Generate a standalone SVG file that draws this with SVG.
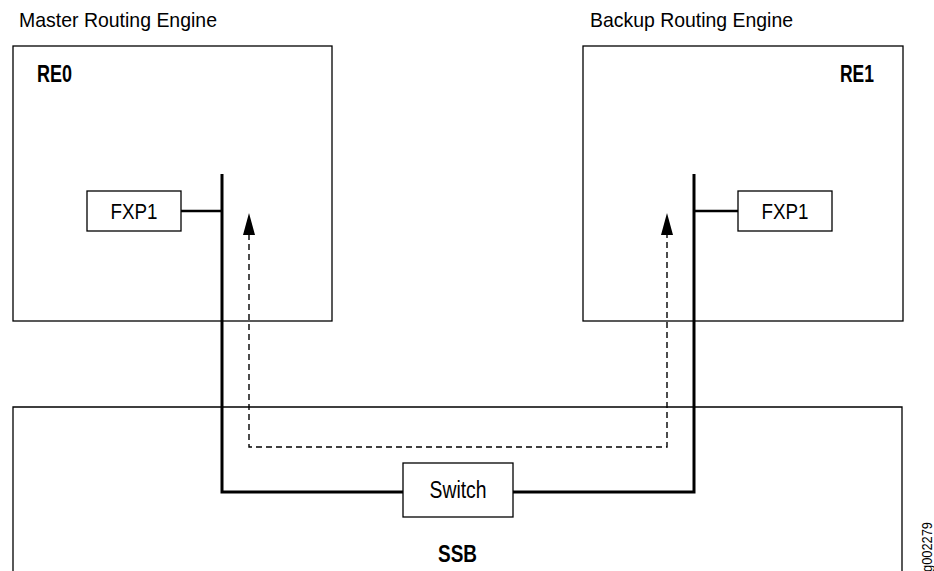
<svg xmlns="http://www.w3.org/2000/svg" width="934" height="571" viewBox="0 0 934 571">
<style>
.box{fill:#fff;stroke:#000;stroke-width:1.3}
.t{font-family:"Liberation Sans",Arial,sans-serif;fill:#000}
.b{font-weight:bold}
.thick{fill:none;stroke:#000;stroke-width:3}
.med{fill:none;stroke:#000;stroke-width:2.5}
.dash{fill:none;stroke:#000;stroke-width:1.4;stroke-dasharray:6,4}
</style>
<rect width="934" height="571" fill="#fff"/>
<g id="ssb">
<path class="box" d="M13,600 V407 H902 V600"/>
<text class="t b" x="438" y="562" font-size="23" textLength="39" lengthAdjust="spacingAndGlyphs">SSB</text>
</g>
<g id="re0">
<rect class="box" x="13" y="46" width="319" height="275"/>
<text class="t" x="19" y="27" font-size="21" textLength="198" lengthAdjust="spacingAndGlyphs">Master Routing Engine</text>
<text class="t b" x="37" y="82" font-size="23" textLength="35" lengthAdjust="spacingAndGlyphs">RE0</text>
</g>
<g id="re1">
<rect class="box" x="583" y="46" width="320" height="275"/>
<text class="t" x="590" y="27" font-size="21" textLength="203" lengthAdjust="spacingAndGlyphs">Backup Routing Engine</text>
<text class="t b" x="840" y="82" font-size="23" textLength="34" lengthAdjust="spacingAndGlyphs">RE1</text>
</g>
<g id="connectors">
<path class="thick" d="M222,174 V492 H403"/>
<path class="thick" d="M513,492 H694 V174"/>
<path class="med" d="M181,211 H222"/>
<path class="med" d="M694,211 H738"/>
<path class="dash" d="M249,234 V447 H667 V234"/>
<polygon points="249,213 243,235 255,235" fill="#000"/>
<polygon points="667,213 661,235 673,235" fill="#000"/>
</g>
<g id="fxp1-left">
<rect class="box" x="87" y="191" width="94" height="40"/>
<text class="t" x="134" y="219" font-size="22" text-anchor="middle" textLength="47" lengthAdjust="spacingAndGlyphs">FXP1</text>
</g>
<g id="fxp1-right">
<rect class="box" x="738" y="191" width="94" height="40"/>
<text class="t" x="785" y="219" font-size="22" text-anchor="middle" textLength="47" lengthAdjust="spacingAndGlyphs">FXP1</text>
</g>
<g id="switch">
<rect class="box" x="403" y="463" width="110" height="54"/>
<text class="t" x="458" y="498" font-size="23" text-anchor="middle" textLength="57" lengthAdjust="spacingAndGlyphs">Switch</text>
</g>
<text class="t" transform="translate(932,572) rotate(-90)" font-size="15" textLength="50" lengthAdjust="spacingAndGlyphs">g002279</text>
</svg>
